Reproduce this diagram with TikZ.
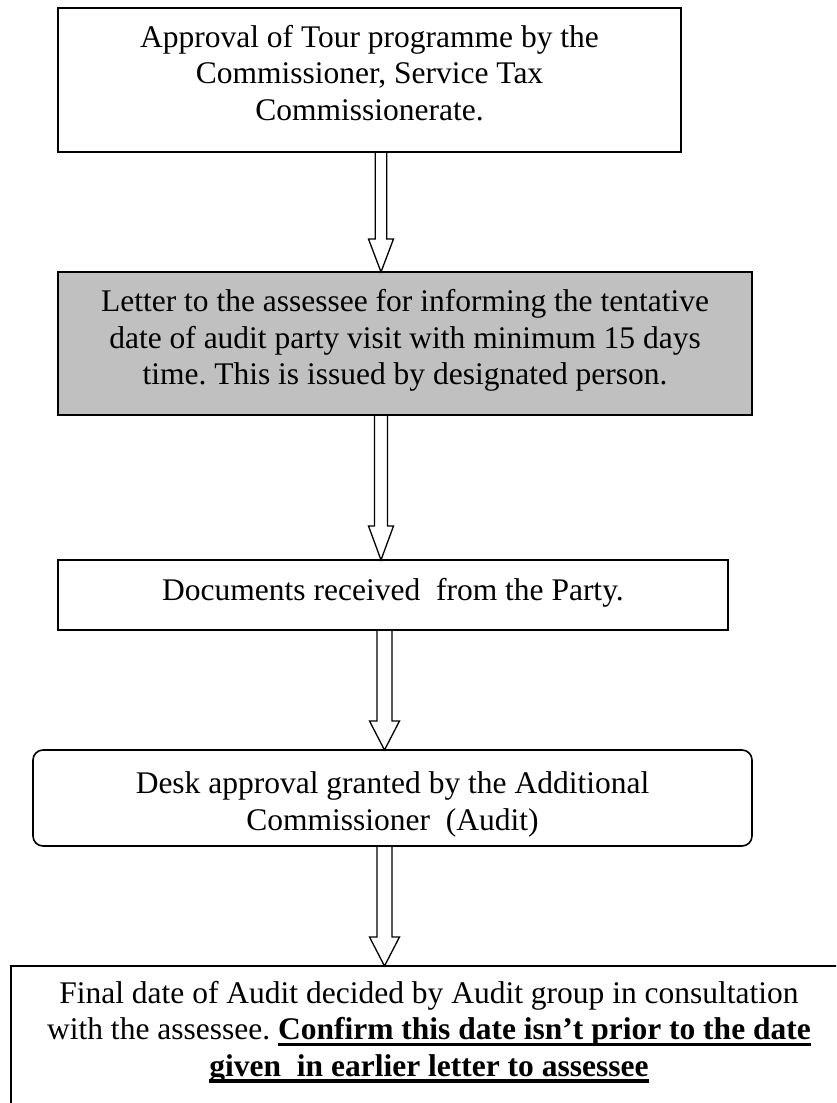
\documentclass[tikz,border=0pt]{standalone}
\usepackage{fontspec}
\setmainfont{Liberation Serif}
\usetikzlibrary{calc}
\frenchspacing
\definecolor{boxgray}{HTML}{C0C0C0}
\newcommand\thickul[1]{\setbox0\hbox{#1}\rlap{\rule[-6.5pt]{\wd0}{3.5pt}}\box0}
\newcommand\blkarrow[6]{%
  \draw[blk] ($(#2.south -| #1,0)+(-#4,0)$) -- ($(#3.north -| #1,0)+(-#4,-#6)$)
    -- ($(#3.north -| #1,0)+(-#5,-#6)$) -- (#3.north -| #1,0)
    -- ($(#3.north -| #1,0)+(#5,-#6)$) -- ($(#3.north -| #1,0)+(#4,-#6)$)
    -- ($(#2.south -| #1,0)+(#4,0)$);}
\begin{document}
\begin{tikzpicture}[x=1pt,y=-1pt,
  box/.style={draw, line width=1.6pt, outer sep=0pt, inner sep=0pt},
  txt/.style={align=center, inner sep=0pt, anchor=base, font=\fontsize{31.5}{36.5}\selectfont},
  blk/.style={draw, line width=1.3pt, line join=miter}]
\useasboundingbox (0,0) rectangle (836,1103);
\clip (0,0) rectangle (836,1103);

\node[box, minimum width=623pt, minimum height=144pt] (b1) at (369.5,80) {};
\node[box, fill=boxgray, minimum width=694pt, minimum height=143pt] (b2) at (405,343.5) {};
\node[box, minimum width=670pt, minimum height=70pt] (b3) at (393,595) {};
\node[box, rounded corners=10pt, minimum width=719pt, minimum height=96pt] (b4) at (392.5,798) {};
\node[box, minimum width=836pt, minimum height=168pt] (b5) at (429,1050) {};

% anchor=base of a multi-line node is the baseline of its last line
\node[txt] (t1) at ($(b1.north)+(0,112.3)$) {Approval of Tour programme by the\\Commissioner, Service Tax\\Commissionerate.};
\node[txt] (t2) at ($(b2.north)+(0,112.7)$) {Letter to the assessee for informing the tentative\\date of audit party visit with minimum 15 days\\time. This is issued by designated person.};
\node[txt] (t3) at ($(b3.north)+(0,40)$) {Documents received\ \ from the Party.};
\node[txt] (t4) at ($(b4.north)+(0,80.2)$) {Desk approval granted by the Additional\\Commissioner\ \ (Audit)};
\node[txt] (t5) at ($(b5.north)+(0,110)$) {Final date of Audit decided by Audit group in consultation\\with the assessee. \thickul{\textbf{Confirm this date isn’t prior to the date}}\\\thickul{\textbf{given\ \ in earlier letter to assessee}}};

\blkarrow{381}{b1}{b2}{5.7}{12.5}{33}
\blkarrow{381}{b2}{b3}{6.5}{12.5}{34}
\blkarrow{384.5}{b3}{b4}{7.5}{15}{29}
\blkarrow{384.5}{b4}{b5}{7.5}{15}{29}
\end{tikzpicture}
\end{document}
